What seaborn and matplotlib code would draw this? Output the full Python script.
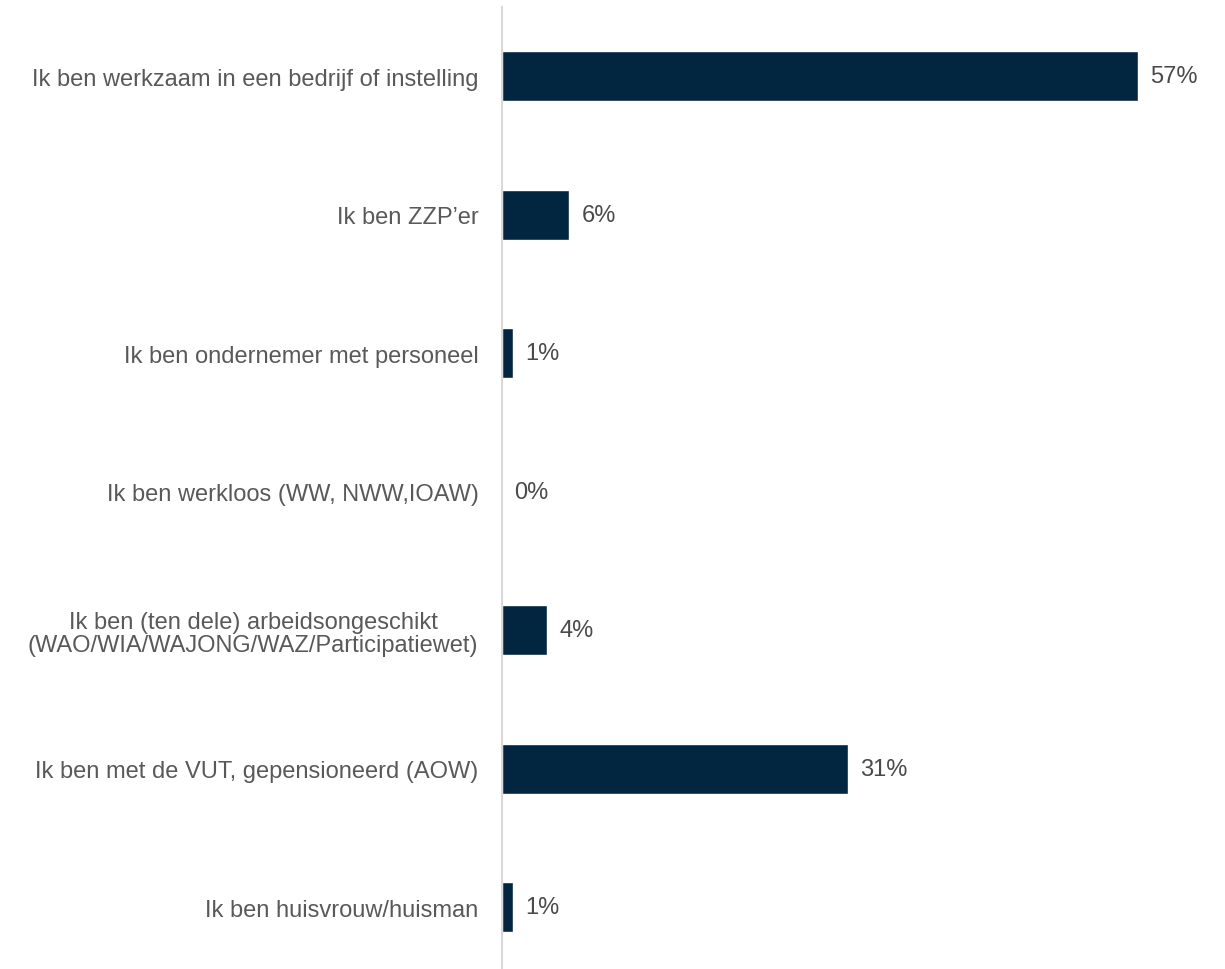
import matplotlib
matplotlib.use("Agg")
import matplotlib.pyplot as plt
import seaborn as sns
import pandas as pd

categories = [
    "Ik ben werkzaam in een bedrijf of instelling",
    "Ik ben ZZP\u2019er",
    "Ik ben ondernemer met personeel",
    "Ik ben werkloos (WW, NWW,IOAW)",
    "Ik ben (ten dele) arbeidsongeschikt\n(WAO/WIA/WAJONG/WAZ/Participatiewet)",
    "Ik ben met de VUT, gepensioneerd (AOW)",
    "Ik ben huisvrouw/huisman",
]
percentages = [57, 6, 1, 0, 4, 31, 1]

df = pd.DataFrame({"categorie": categories, "percentage": percentages})

sns.set_theme(style="white")
plt.rcParams["font.family"] = ["Liberation Sans", "DejaVu Sans"]

fig = plt.figure(figsize=(12.25, 9.7), dpi=100)
ax = fig.add_axes([502 / 1225, 0.0, 669 / 1225, 962 / 970])

sns.barplot(data=df, x="percentage", y="categorie", orient="h",
            color="#022640", saturation=1, width=0.36, ax=ax)

for bar, val in zip(ax.patches, percentages):
    y = bar.get_y() + bar.get_height() / 2
    ax.annotate(f"{val}%", xy=(bar.get_width(), y), xytext=(9, 0),
                textcoords="offset points", va="center", ha="left",
                fontsize=17, color="#4a4a4a")

ax.set_xlim(0, 60)
ax.set_ylim(-0.5 + 962 / 138.5, -0.5)
ax.set_xlabel("")
ax.set_ylabel("")
ax.set_xticks([])
ax.tick_params(axis="y", length=0, pad=17, labelsize=17, labelcolor="#595959")
for lbl in ax.get_yticklabels():
    lbl.set_multialignment("center")
    lbl.set_linespacing(1.1)

for side in ["top", "right", "bottom"]:
    ax.spines[side].set_visible(False)
ax.spines["left"].set_color("#d9d9d9")
ax.spines["left"].set_linewidth(1.5)

fig.savefig("out.png", dpi=100)
